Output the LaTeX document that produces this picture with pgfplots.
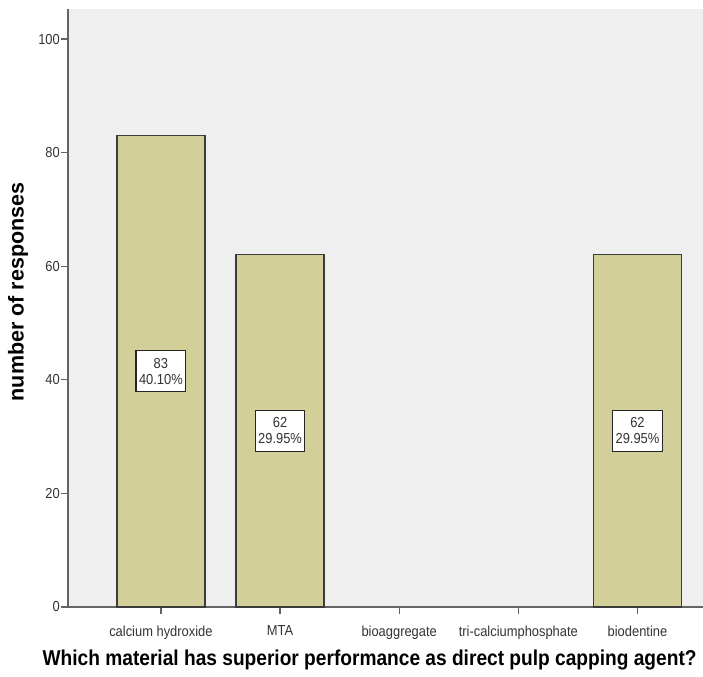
\documentclass[border=0pt]{standalone}
\usepackage{fontspec}
\setmainfont[FakeStretch=0.89]{Liberation Sans}
\newfontfamily\ylabfont{Liberation Sans}
\usepackage{pgfplots}
\pgfplotsset{compat=1.18}
\usetikzlibrary{calc}
\definecolor{barfill}{RGB}{211,207,153}
\definecolor{bg}{RGB}{239,239,239}
\definecolor{axisgray}{RGB}{100,100,100}
\definecolor{bardraw}{RGB}{60,60,60}
\begin{document}
\begin{tikzpicture}
\begin{axis}[
  scale only axis, width=635pt, height=598pt,
  xmin=-0.78, xmax=4.55, ymin=0, ymax=105.3,
  axis x line*=bottom, axis y line*=left,
  axis line style={axisgray, line width=1.3pt, -},
  axis background/.style={fill=bg},
  xtick={0,1,2,3,4},
  xticklabels={calcium hydroxide, MTA, bioaggregate, tri-calciumphosphate, biodentine},
  ytick={0,20,40,60,80,100},
  tick style={axisgray, line width=1.3pt},
  major tick length=7pt,
  tick align=outside,
  /pgf/number format/assume math mode=true,
  ticklabel style={font=\fontsize{14.5}{16}\selectfont, text=black!80},
  yticklabel style={inner sep=1pt},
  xticklabel style={yshift=-8pt},
  xlabel={Which material has superior performance as direct pulp capping agent?},
  ylabel={number of responses},
  xlabel style={at={(axis description cs:0.475,-0.0886)}, anchor=center, font=\fontsize{21.5}{24}\selectfont\bfseries},
  ylabel style={at={(axis description cs:-0.0787,0.527)}, anchor=center, font=\ylabfont\fontsize{21.5}{24}\selectfont\bfseries},
  clip=false,
]
\addplot[ybar, bar width=88pt, fill=barfill, draw=bardraw, line width=1.2pt]
  coordinates {(0,83) (1,62) (4,62)};
\addplot[draw=none, mark=none, nodes near coords, point meta=explicit symbolic,
  every node near coord/.append style={anchor=center, fill=white, draw=black!85, line width=1.1pt,
    align=center, font=\fontsize{14.5}{16}\selectfont, text=black!80, inner xsep=3pt, inner ysep=7.5pt}]
  coordinates {(0,41.5) [{83\\40.10\%}] (1,31) [{62\\29.95\%}] (4,31) [{62\\29.95\%}]};
\coordinate (ll) at (rel axis cs:0,0);
\coordinate (ur) at (rel axis cs:1,1);
\end{axis}
\pgfresetboundingbox
\useasboundingbox ($(ll)+(-68pt,-70pt)$) rectangle ($(ur)+(0pt,9pt)$);
\end{tikzpicture}
\end{document}
